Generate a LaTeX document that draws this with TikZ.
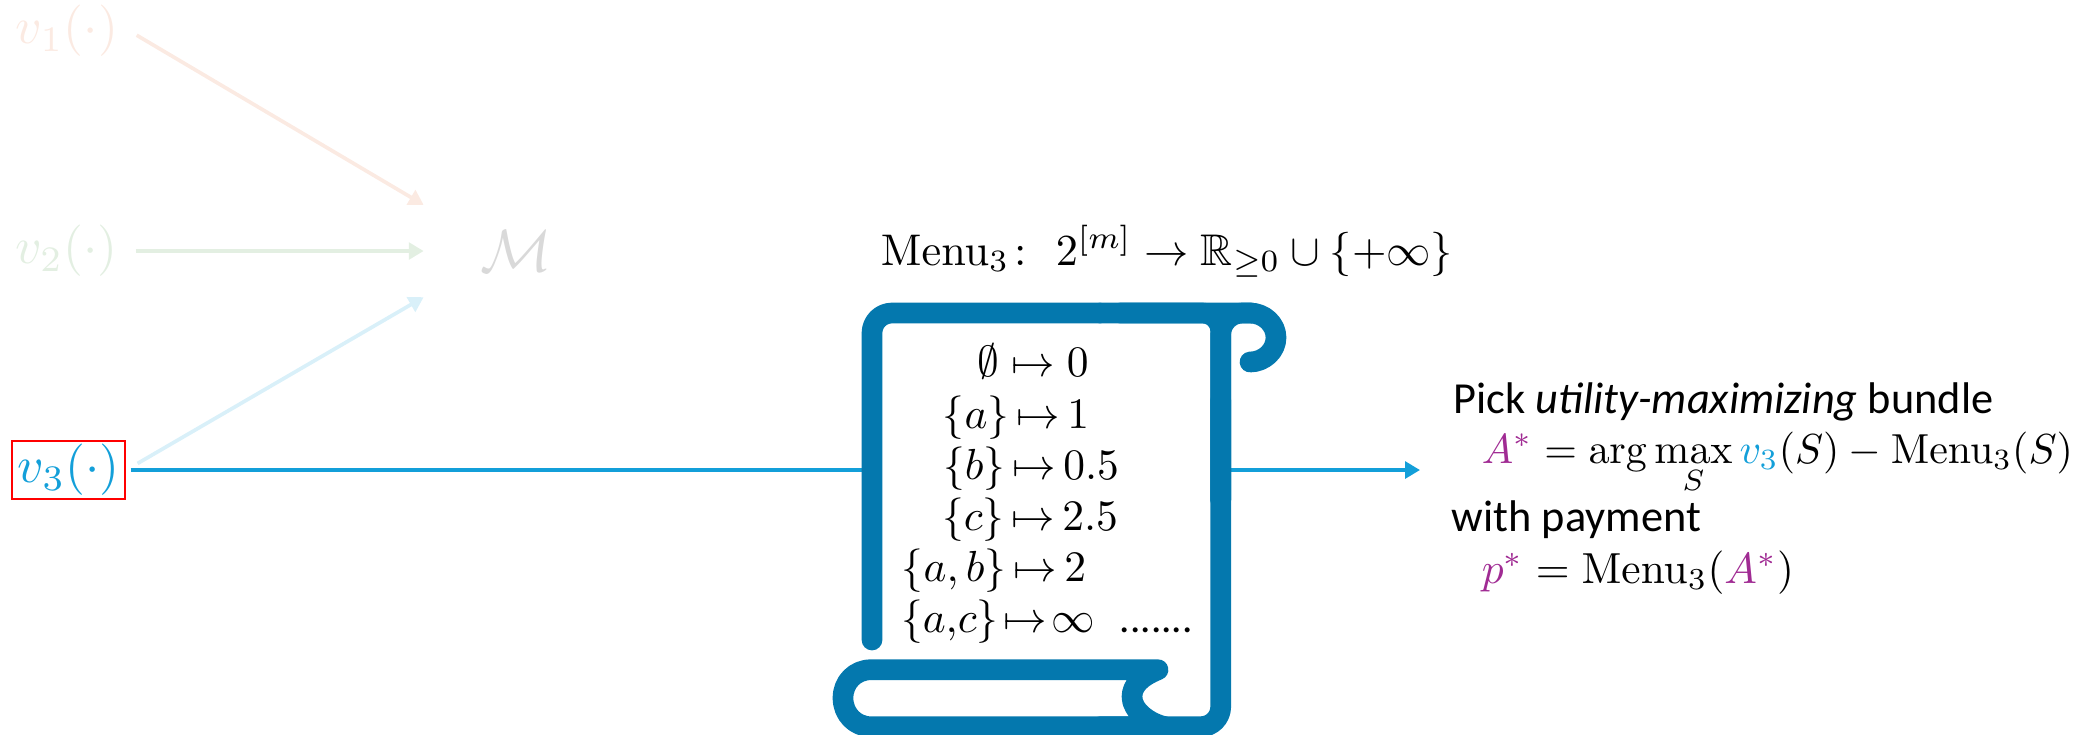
\documentclass[tikz,border=0pt]{standalone}
\usepackage[no-math]{fontspec}
\usepackage{amsmath,amssymb}
\usetikzlibrary{arrows.meta}
\newfontfamily\labelfont{Carlito}
\definecolor{scrollblue}{HTML}{0478AE}
\definecolor{linkblue}{HTML}{139FD9}
\definecolor{pickpurple}{HTML}{A02B93}
\definecolor{fadeorange}{HTML}{FBEAE2}
\definecolor{fadegreen}{HTML}{E3EFE2}
\definecolor{fadeblue}{HTML}{D9F0F9}
\definecolor{fadegray}{HTML}{D9D9D9}
\newcommand{\rowmap}{\mskip3mu{\mapsto}\mskip3mu}
\begin{document}
\begin{tikzpicture}[
    x=0.23pt,y=-0.23pt,
    link/.style={-{Triangle[length=3.4pt,width=3.8pt]}, line width=0.85pt},
    bidder/.style={scale=1.18, inner sep=0pt, minimum height=11.27pt},
    menurow/.style={anchor=base, inner sep=0pt},
    scrollline/.style={draw=scrollblue, line width=4.76pt, line cap=round, line join=round},
    picktext/.style={anchor=base west, inner sep=0pt, font=\labelfont}
]
\useasboundingbox (0,0) rectangle (2095,734);
% bidders and mechanism
\node[bidder, text=fadeorange, minimum width=24pt] (v1) at (67,31) {$v_1(\cdot)$};
\node[bidder, text=fadegreen, minimum width=24pt] (v2) at (66.5,251) {$v_2(\cdot)$};
\node[bidder, text=linkblue, draw=red, line width=0.46pt, minimum width=21.95pt] (v3) at (68.8,470) {$v_3(\cdot)$};
\node[scale=1.37, inner sep=0pt, text=fadegray, minimum width=30.6pt, minimum height=15.1pt] (M) at (516,251) {$\mathcal{M}$};
\coordinate (menuin) at (865,470);
\coordinate (menuout) at (1225,470);
\coordinate (pick) at (1420,470);
\draw[link, draw=fadeorange, fill=fadeorange, shorten <=1.9pt] (v1.east) -- (M.north west);
\draw[link, draw=fadegreen, fill=fadegreen, shorten <=1.5pt] (v2.east) -- (M.west);
\draw[link, draw=fadeblue, fill=fadeblue, shorten <=3pt] (v3.east) -- (M.south west);
\draw[draw=linkblue, line width=0.98pt, shorten <=1pt] (v3.east) -- (menuin);
\draw[link, draw=linkblue, line width=0.98pt] (menuout) -- (pick);
% scroll
\draw[scrollline, rounded corners=4.6pt] (872,640) -- (872,313) -- (1100,313);
\draw[scrollline] (1100,313) -- (1250,313)
    .. controls (1264,313) and (1276,324) .. (1276,337.5)
    .. controls (1276,351) and (1264,362) .. (1250,362);
\draw[scrollline, rounded corners=4.2pt] (1120,313) -- (1220.7,313) -- (1220.7,500);
\draw[scrollline, rounded corners=5pt] (1220.7,500) -- (1220.7,313) -- (1252,313);
\draw[scrollline, rounded corners=4.6pt] (1220.7,400) -- (1220.7,726.7) -- (1100,726.7);
\draw[scrollline] (1150,726.7) -- (871,726.7)
    .. controls (855,726.7) and (843,714) .. (843,698)
    .. controls (843,682) and (855,669.7) .. (871,669.7)
    -- (1158,669.7)
    .. controls (1140,677) and (1132,686) .. (1132,697)
    .. controls (1132,710) and (1148,723) .. (1165,726.7);
% menu entries
\node[menurow] (row1) at (1033,376.7) {$\emptyset\mapsto 0$};
\node[menurow] (row2) at (1016,428) {$\{a\}\rowmap 1$};
\node[menurow] (row3) at (1031,479) {$\{b\}\rowmap 0.5$};
\node[menurow] (row4) at (1030,530) {$\{c\}\rowmap 2.5$};
\node[menurow] (row5) at (994,581.7) {$\{a,b\}\rowmap 2$};
\node[menurow] (row6) at (998,632) {$\{a,\!c\}\mskip2mu{\mapsto}\mskip2mu\infty$};
\node[menurow, anchor=base west, scale=0.95] (rowdots) at (1119,632) {\labelfont .......};
% labels
\node[anchor=base, inner sep=0pt, scale=1.02] (signature) at (1167,265) {$\mathrm{Menu}_3\colon\ 2^{[m]}\to\mathbb{R}_{\geq 0}\cup\{+\infty\}$};
\node[picktext, scale=1.02] (pickline) at (1453,413) {Pick \textit{utility-maximizing} bundle};
\node[picktext, scale=0.965] (argline) at (1481,463) {$\textcolor{pickpurple}{A^*}=\arg\max\limits_{S}\textcolor{linkblue}{v_3}(S)-\mathrm{Menu}_3(S)$};
\node[picktext, scale=1.02] (payline) at (1451,531) {with payment};
\node[picktext] (priceline) at (1481,583) {$\textcolor{pickpurple}{p^*}=\mathrm{Menu}_3(\textcolor{pickpurple}{A^*})$};
\end{tikzpicture}
\end{document}
